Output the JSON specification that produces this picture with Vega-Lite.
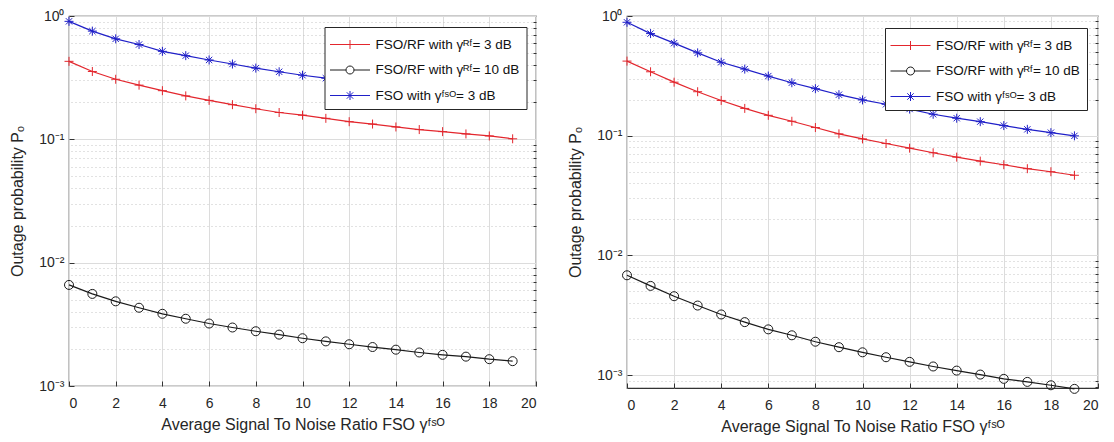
{
  "$schema": "https://vega.github.io/schema/vega-lite/v6.json",
  "padding": {"left": 9, "top": 8, "right": 0, "bottom": 0},
  "background": "white",
  "spacing": 29,
  "config": {
    "font": "Liberation Sans",
    "view": {"stroke": "#333333", "strokeWidth": 1.2},
    "axis": {
      "labelFont": "Liberation Sans", "labelFontSize": 14, "labelColor": "#262626",
      "titleFont": "Liberation Sans", "titleFontSize": 16, "titleFontWeight": "normal", "titleColor": "#262626",
      "gridColor": "#dcdcdc", "gridWidth": 1, "domain": false, "tickColor": "#333333", "tickWidth": 1
    },
    "legend": {
      "labelFont": "Liberation Sans", "labelFontSize": 13.5, "labelColor": "#111111",
      "strokeColor": "#262626", "fillColor": "white", "padding": 7, "rowPadding": 8.5,
      "symbolOffset": 8, "labelOffset": 15, "labelLimit": 400, "symbolStrokeWidth": 1, "symbolSize": 400
    }
  },
  "datasets": {
    "left": [
      {"snr":0,"p":0.429,"s":"r3"},{"snr":1,"p":0.355,"s":"r3"},{"snr":2,"p":0.307,"s":"r3"},{"snr":3,"p":0.275,"s":"r3"},{"snr":4,"p":0.248,"s":"r3"},
      {"snr":5,"p":0.225,"s":"r3"},{"snr":6,"p":0.207,"s":"r3"},{"snr":7,"p":0.191,"s":"r3"},{"snr":8,"p":0.177,"s":"r3"},{"snr":9,"p":0.165,"s":"r3"},
      {"snr":10,"p":0.157,"s":"r3"},{"snr":11,"p":0.148,"s":"r3"},{"snr":12,"p":0.139,"s":"r3"},{"snr":13,"p":0.133,"s":"r3"},{"snr":14,"p":0.126,"s":"r3"},
      {"snr":15,"p":0.120,"s":"r3"},{"snr":16,"p":0.1155,"s":"r3"},{"snr":17,"p":0.1106,"s":"r3"},{"snr":18,"p":0.1065,"s":"r3"},{"snr":19,"p":0.101,"s":"r3"},
      {"snr":0,"p":0.0066,"s":"r10"},{"snr":1,"p":0.00558,"s":"r10"},{"snr":2,"p":0.00486,"s":"r10"},{"snr":3,"p":0.00431,"s":"r10"},{"snr":4,"p":0.00385,"s":"r10"},
      {"snr":5,"p":0.00351,"s":"r10"},{"snr":6,"p":0.00321,"s":"r10"},{"snr":7,"p":0.00298,"s":"r10"},{"snr":8,"p":0.00278,"s":"r10"},{"snr":9,"p":0.00261,"s":"r10"},
      {"snr":10,"p":0.00244,"s":"r10"},{"snr":11,"p":0.0023,"s":"r10"},{"snr":12,"p":0.00218,"s":"r10"},{"snr":13,"p":0.00207,"s":"r10"},{"snr":14,"p":0.00197,"s":"r10"},
      {"snr":15,"p":0.00187,"s":"r10"},{"snr":16,"p":0.00179,"s":"r10"},{"snr":17,"p":0.00173,"s":"r10"},{"snr":18,"p":0.00165,"s":"r10"},{"snr":19,"p":0.00159,"s":"r10"},
      {"snr":0,"p":0.905,"s":"f3"},{"snr":1,"p":0.754,"s":"f3"},{"snr":2,"p":0.653,"s":"f3"},{"snr":3,"p":0.587,"s":"f3"},{"snr":4,"p":0.517,"s":"f3"},
      {"snr":5,"p":0.477,"s":"f3"},{"snr":6,"p":0.44,"s":"f3"},{"snr":7,"p":0.408,"s":"f3"},{"snr":8,"p":0.378,"s":"f3"},{"snr":9,"p":0.353,"s":"f3"},
      {"snr":10,"p":0.331,"s":"f3"},{"snr":11,"p":0.313,"s":"f3"},{"snr":12,"p":0.297,"s":"f3"},{"snr":13,"p":0.283,"s":"f3"},{"snr":14,"p":0.27,"s":"f3"},
      {"snr":15,"p":0.258,"s":"f3"},{"snr":16,"p":0.247,"s":"f3"},{"snr":17,"p":0.237,"s":"f3"},{"snr":18,"p":0.228,"s":"f3"},{"snr":19,"p":0.22,"s":"f3"}
    ],
    "right": [
      {"snr":0,"p":0.42,"s":"r3"},{"snr":1,"p":0.342,"s":"r3"},{"snr":2,"p":0.28,"s":"r3"},{"snr":3,"p":0.233,"s":"r3"},{"snr":4,"p":0.197,"s":"r3"},
      {"snr":5,"p":0.169,"s":"r3"},{"snr":6,"p":0.148,"s":"r3"},{"snr":7,"p":0.132,"s":"r3"},{"snr":8,"p":0.117,"s":"r3"},{"snr":9,"p":0.1036,"s":"r3"},
      {"snr":10,"p":0.094,"s":"r3"},{"snr":11,"p":0.086,"s":"r3"},{"snr":12,"p":0.0787,"s":"r3"},{"snr":13,"p":0.072,"s":"r3"},{"snr":14,"p":0.0662,"s":"r3"},
      {"snr":15,"p":0.0613,"s":"r3"},{"snr":16,"p":0.0572,"s":"r3"},{"snr":17,"p":0.053,"s":"r3"},{"snr":18,"p":0.05,"s":"r3"},{"snr":19,"p":0.0467,"s":"r3"},
      {"snr":0,"p":0.00682,"s":"r10"},{"snr":1,"p":0.00556,"s":"r10"},{"snr":2,"p":0.00456,"s":"r10"},{"snr":3,"p":0.00381,"s":"r10"},{"snr":4,"p":0.00321,"s":"r10"},
      {"snr":5,"p":0.00277,"s":"r10"},{"snr":6,"p":0.00241,"s":"r10"},{"snr":7,"p":0.00215,"s":"r10"},{"snr":8,"p":0.0019,"s":"r10"},{"snr":9,"p":0.00171,"s":"r10"},
      {"snr":10,"p":0.00155,"s":"r10"},{"snr":11,"p":0.00141,"s":"r10"},{"snr":12,"p":0.00129,"s":"r10"},{"snr":13,"p":0.00118,"s":"r10"},{"snr":14,"p":0.00109,"s":"r10"},
      {"snr":15,"p":0.00101,"s":"r10"},{"snr":16,"p":0.00093,"s":"r10"},{"snr":17,"p":0.000877,"s":"r10"},{"snr":18,"p":0.000822,"s":"r10"},{"snr":19,"p":0.000767,"s":"r10"},
      {"snr":0,"p":0.886,"s":"f3"},{"snr":1,"p":0.713,"s":"f3"},{"snr":2,"p":0.593,"s":"f3"},{"snr":3,"p":0.492,"s":"f3"},{"snr":4,"p":0.411,"s":"f3"},
      {"snr":5,"p":0.36,"s":"f3"},{"snr":6,"p":0.315,"s":"f3"},{"snr":7,"p":0.277,"s":"f3"},{"snr":8,"p":0.247,"s":"f3"},{"snr":9,"p":0.22,"s":"f3"},
      {"snr":10,"p":0.199,"s":"f3"},{"snr":11,"p":0.183,"s":"f3"},{"snr":12,"p":0.167,"s":"f3"},{"snr":13,"p":0.151,"s":"f3"},{"snr":14,"p":0.14,"s":"f3"},
      {"snr":15,"p":0.131,"s":"f3"},{"snr":16,"p":0.1215,"s":"f3"},{"snr":17,"p":0.113,"s":"f3"},{"snr":18,"p":0.106,"s":"f3"},{"snr":19,"p":0.0997,"s":"f3"}
    ]
  },
  "hconcat": [
    {
      "width": 467, "height": 370,
      "data": {"name": "left"},
      "encoding": {
        "x": {"field": "snr", "type": "quantitative", "scale": {"domain": [0, 20], "nice": false, "zero": false},
          "axis": {"values": [0,2,4,6,8,10,12,14,16,18,20], "title": "Average Signal To Noise Ratio FSO γᶠˢᴼ", "grid": true, "tickSize": -5, "labelPadding": 15, "titlePadding": 6}},
        "color": {"field": "s", "type": "nominal", "scale": {"domain": ["r3","r10","f3"], "range": ["#e3262d","#1a1a1a","#1f1fc8"]}, "legend": null}
      },
      "layer": [
        {"mark": {"type": "line", "strokeWidth": 1.2},
         "encoding": {"y": {"field": "p", "type": "quantitative", "scale": {"type": "log", "domain": [0.001, 1], "nice": false},
           "axis": {"values": [1, 0.1, 0.01, 0.001], "title": "Outage probability Pₒ", "grid": true, "tickSize": -5, "labelPadding": 10, "titlePadding": 13,
             "labelExpr": "datum.value > 0.5 ? '10⁰' : datum.value > 0.05 ? '10⁻¹' : datum.value > 0.005 ? '10⁻²' : '10⁻³'"}}}},
        {"mark": {"type": "point", "filled": false, "size": 81, "strokeWidth": 1, "opacity": 1},
         "encoding": {"y": {"field": "p", "type": "quantitative",
           "axis": {"orient": "right", "values": [0.002,0.003,0.004,0.005,0.006,0.007,0.008,0.009,0.02,0.03,0.04,0.05,0.06,0.07,0.08,0.09,0.2,0.3,0.4,0.5,0.6,0.7,0.8,0.9],
             "labels": false, "title": null, "grid": true, "gridDash": [1, 3], "gridColor": "#c4c4c4", "tickSize": -3}},
           "shape": {"field": "s", "type": "nominal", "scale": {"domain": ["r3","r10","f3"], "range": ["M0,-1V1M-1,0H1", "circle", "M0,-1V1M-1,0H1M-0.7,-0.7L0.7,0.7M-0.7,0.7L0.7,-0.7"]}, "legend": null}}},
        {"transform": [{"filter": "false"}],
         "mark": {"type": "point", "filled": false, "strokeWidth": 1, "opacity": 1},
         "encoding": {"y": {"field": "p", "type": "quantitative", "axis": null},
           "color": {"field": "s", "type": "nominal", "scale": {"domain": ["r3","r10","f3"], "range": ["#e3262d","#1a1a1a","#1f1fc8"]},
             "legend": {"title": null, "orient": "none", "legendX": 255.5, "legendY": 11,
               "labelExpr": "datum.value == 'r3' ? 'FSO/RF with γᴿᶠ= 3 dB' : datum.value == 'r10' ? 'FSO/RF with γᴿᶠ= 10 dB' : 'FSO with γᶠˢᴼ= 3 dB'"}},
           "shape": {"field": "s", "type": "nominal", "scale": {"domain": ["r3","r10","f3"], "range": ["M-2,0H2M0,-0.45V0.45M-0.45,0H0.45", "M-2,0H-0.4M0.4,0H2M0.4,0A0.4,0.4 0 1,1 -0.4,0A0.4,0.4 0 1,1 0.4,0", "M-2,0H2M0,-0.45V0.45M-0.45,0H0.45M-0.32,-0.32L0.32,0.32M-0.32,0.32L0.32,-0.32"]},
             "legend": {"title": null, "orient": "none", "legendX": 255.5, "legendY": 11,
               "labelExpr": "datum.value == 'r3' ? 'FSO/RF with γᴿᶠ= 3 dB' : datum.value == 'r10' ? 'FSO/RF with γᴿᶠ= 10 dB' : 'FSO with γᶠˢᴼ= 3 dB'"}}}}
      ],
      "resolve": {"axis": {"y": "independent"}, "scale": {"shape": "independent", "color": "independent"}}
    },
    {
      "width": 471, "height": 372,
      "data": {"name": "right"},
      "encoding": {
        "x": {"field": "snr", "type": "quantitative", "scale": {"domain": [0, 20], "nice": false, "zero": false},
          "axis": {"values": [0,2,4,6,8,10,12,14,16,18,20], "title": "Average Signal To Noise Ratio FSO γᶠˢᴼ", "grid": true, "tickSize": -5, "labelPadding": 15, "titlePadding": 6}},
        "color": {"field": "s", "type": "nominal", "scale": {"domain": ["r3","r10","f3"], "range": ["#e3262d","#1a1a1a","#1f1fc8"]}, "legend": null}
      },
      "layer": [
        {"mark": {"type": "line", "strokeWidth": 1.2},
         "encoding": {"y": {"field": "p", "type": "quantitative", "scale": {"type": "log", "domain": [0.00078, 1], "nice": false},
           "axis": {"values": [1, 0.1, 0.01, 0.001], "title": "Outage probability Pₒ", "grid": true, "tickSize": -5, "labelPadding": 10, "titlePadding": 13,
             "labelExpr": "datum.value > 0.5 ? '10⁰' : datum.value > 0.05 ? '10⁻¹' : datum.value > 0.005 ? '10⁻²' : '10⁻³'"}}}},
        {"mark": {"type": "point", "filled": false, "size": 81, "strokeWidth": 1, "opacity": 1},
         "encoding": {"y": {"field": "p", "type": "quantitative",
           "axis": {"orient": "right", "values": [0.0008,0.0009,0.002,0.003,0.004,0.005,0.006,0.007,0.008,0.009,0.02,0.03,0.04,0.05,0.06,0.07,0.08,0.09,0.2,0.3,0.4,0.5,0.6,0.7,0.8,0.9],
             "labels": false, "title": null, "grid": true, "gridDash": [1, 3], "gridColor": "#c4c4c4", "tickSize": -3}},
           "shape": {"field": "s", "type": "nominal", "scale": {"domain": ["r3","r10","f3"], "range": ["M0,-1V1M-1,0H1", "circle", "M0,-1V1M-1,0H1M-0.7,-0.7L0.7,0.7M-0.7,0.7L0.7,-0.7"]}, "legend": null}}},
        {"transform": [{"filter": "false"}],
         "mark": {"type": "point", "filled": false, "strokeWidth": 1, "opacity": 1},
         "encoding": {"y": {"field": "p", "type": "quantitative", "axis": null},
           "color": {"field": "s", "type": "nominal", "scale": {"domain": ["r3","r10","f3"], "range": ["#e3262d","#1a1a1a","#1f1fc8"]},
             "legend": {"title": null, "orient": "none", "legendX": 258, "legendY": 12,
               "labelExpr": "datum.value == 'r3' ? 'FSO/RF with γᴿᶠ= 3 dB' : datum.value == 'r10' ? 'FSO/RF with γᴿᶠ= 10 dB' : 'FSO with γᶠˢᴼ= 3 dB'"}},
           "shape": {"field": "s", "type": "nominal", "scale": {"domain": ["r3","r10","f3"], "range": ["M-2,0H2M0,-0.45V0.45M-0.45,0H0.45", "M-2,0H-0.4M0.4,0H2M0.4,0A0.4,0.4 0 1,1 -0.4,0A0.4,0.4 0 1,1 0.4,0", "M-2,0H2M0,-0.45V0.45M-0.45,0H0.45M-0.32,-0.32L0.32,0.32M-0.32,0.32L0.32,-0.32"]},
             "legend": {"title": null, "orient": "none", "legendX": 258, "legendY": 12,
               "labelExpr": "datum.value == 'r3' ? 'FSO/RF with γᴿᶠ= 3 dB' : datum.value == 'r10' ? 'FSO/RF with γᴿᶠ= 10 dB' : 'FSO with γᶠˢᴼ= 3 dB'"}}}}
      ],
      "resolve": {"axis": {"y": "independent"}, "scale": {"shape": "independent", "color": "independent"}}
    }
  ]
}
